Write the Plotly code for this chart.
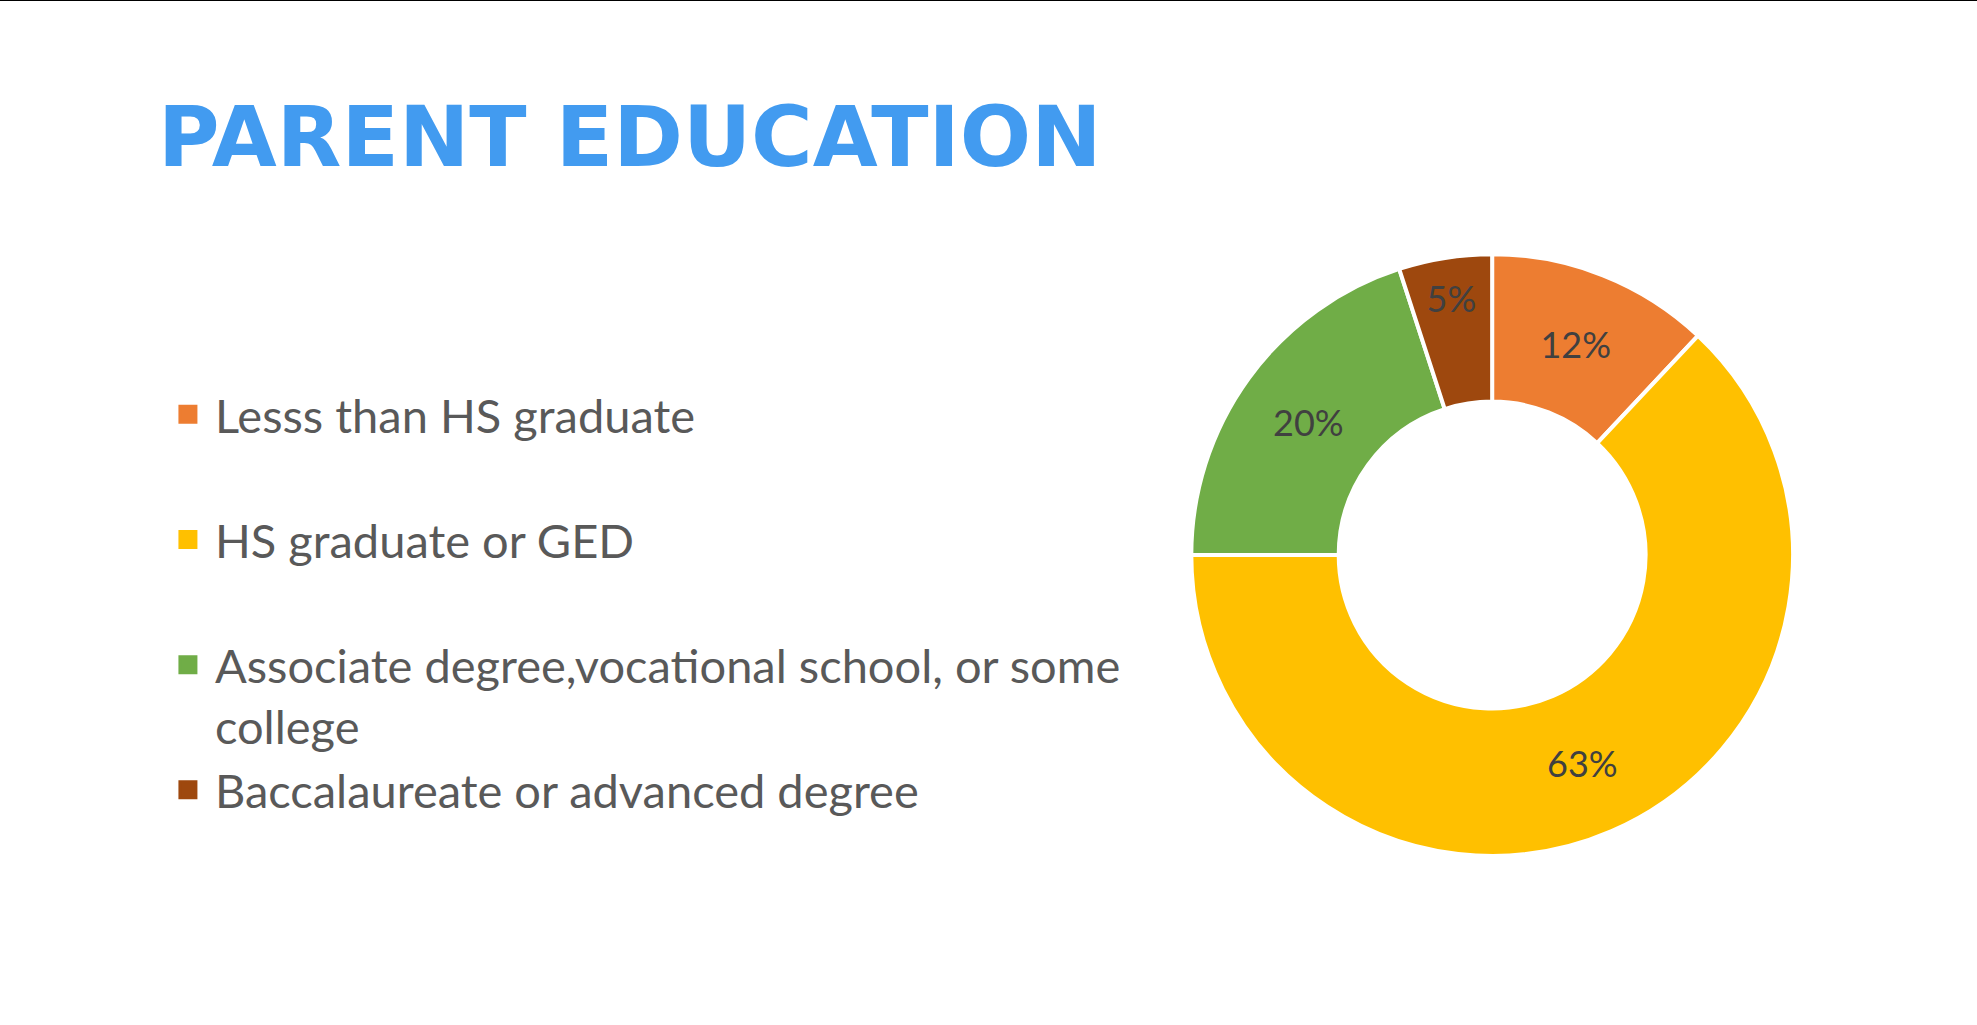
import plotly.graph_objects as go

# parent education breakdown
labels = [
    "Lesss than HS graduate",
    "HS graduate or GED",
    "Associate degree,vocational school, or some college",
    "Baccalaureate or advanced degree",
]
legend_labels = [
    "Lesss than HS graduate<br> ",
    "HS graduate or GED<br> ",
    "Associate degree,vocational school, or some<br>college",
    "Baccalaureate or advanced degree<br> ",
]
values = [12, 63, 20, 5]
colors = ["#ED7D31", "#FFC000", "#70AD47", "#9E480E"]

fig = go.Figure()
fig.add_trace(go.Pie(
    labels=labels,
    values=values,
    hole=0.51,
    sort=False,
    direction="clockwise",
    rotation=0,
    marker=dict(colors=colors, line=dict(color="white", width=4)),
    texttemplate="%{percent:.0%}",
    textposition="inside",
    insidetextorientation="horizontal",
    textfont=dict(family="Lato", size=36, color="#404040"),
    domain=dict(x=[0.6025, 0.907], y=[0.165, 0.752]),
    hoverinfo="label+percent",
    showlegend=False,
))

# legend entries (pie legend squares get eaten by the white slice border)
for name, col in zip(legend_labels, colors):
    fig.add_trace(go.Scatter(
        x=[None], y=[None], mode="markers", name=name,
        marker=dict(symbol="square", size=20, color=col,
                    line=dict(color=col, width=3)),
    ))

fig.update_layout(
    width=1977,
    height=1025,
    margin=dict(l=0, r=0, t=0, b=0),
    paper_bgcolor="white",
    plot_bgcolor="white",
    xaxis=dict(visible=False),
    yaxis=dict(visible=False),
    showlegend=True,
    legend=dict(
        x=0.0814, y=0.632, xanchor="left", yanchor="top",
        font=dict(family="Lato", size=47, color="#595959"),
        valign="top",
        itemwidth=44,
        bgcolor="rgba(0,0,0,0)",
    ),
    annotations=[dict(
        text="<b>PARENT EDUCATION</b>",
        x=156 / 1977, y=1 - 137 / 1025, xref="paper", yref="paper",
        xanchor="left", yanchor="middle", showarrow=False,
        font=dict(family="DejaVu Sans", size=84, color="#429BF0"),
    )],
    shapes=[dict(type="line", xref="paper", yref="paper",
                 x0=0, x1=1, y0=1, y1=1, line=dict(color="black", width=2))],
)

fig.write_html(
    "out.html",
    config={"displayModeBar": False},
    post_script="document.body.style.margin='0';"
                "document.documentElement.style.overflow='hidden';",
)
